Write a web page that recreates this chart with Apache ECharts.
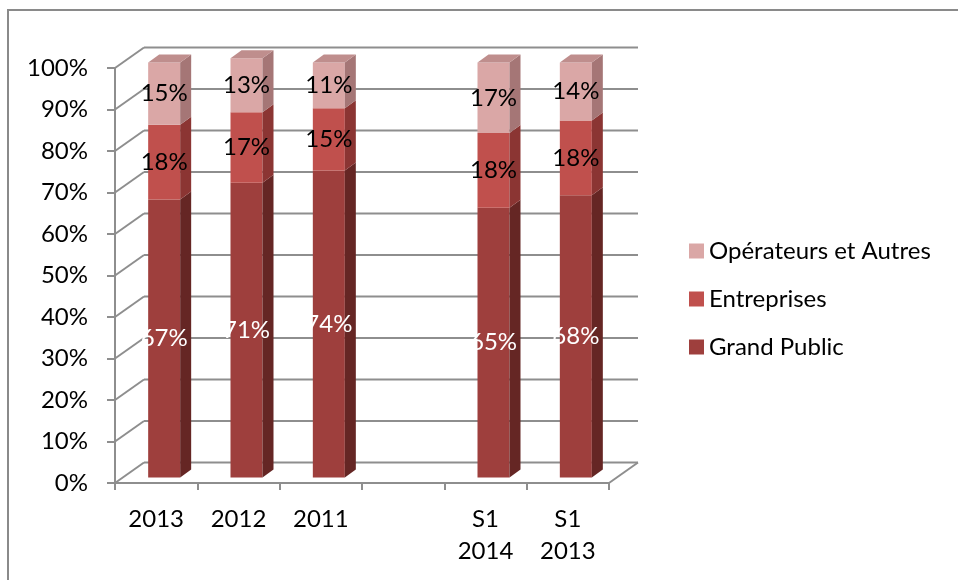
<!DOCTYPE html>
<html>
<head>
<meta charset="utf-8">
<script src="https://cdn.jsdelivr.net/npm/echarts@6/dist/echarts.min.js"></script>
<style>html,body{margin:0;padding:0;background:#fff}#c{width:958px;height:580px}</style>
</head>
<body>
<div id="c"></div>
<script>
const categories = ['2013', '2012', '2011', '', 'S1\n2014', 'S1\n2013'];
const grandPublic = [67, 71, 74, null, 65, 68];
const entreprises = [18, 17, 15, null, 18, 18];
const operateurs = [15, 13, 11, null, 17, 14];
const yTicks = [0, 10, 20, 30, 40, 50, 60, 70, 80, 90, 100];
const seriesNames = ['Grand Public', 'Entreprises', 'Opérateurs et Autres'];
const seriesValues = [grandPublic, entreprises, operateurs];

const FONT = 'Lato';
const FS = 24;
const WALL_DX = 29, WALL_DY = -20.5;
const FACE_DY = -5.5, FACE_W = 32;
const SIDE_DX = 11, SIDE_DY = -8;
const GRID_COLOR = '#8e8e8e';

const palette = [
  { front: '#9E3F3D', side: '#652624', top: '#7F302E', label: '#ffffff' },
  { front: '#C0504D', side: '#8B3533', top: '#A54442', label: '#000000' },
  { front: '#DAA7A6', side: '#A57676', top: '#BF8E8D', label: '#000000' }
];

function wallItem(params, api) {
  const v = api.value(1);
  const p = api.coord([0, v]);
  const cs = params.coordSys;
  const x0 = cs.x, x1 = cs.x + cs.width, y = p[1];
  const st = { stroke: GRID_COLOR, lineWidth: 2 };
  const children = [
    { type: 'line', shape: { x1: x0, y1: y, x2: x0 + WALL_DX, y2: y + WALL_DY }, style: st },
    { type: 'line', shape: { x1: x0 + WALL_DX, y1: y + WALL_DY, x2: x1 + WALL_DX, y2: y + WALL_DY }, style: st }
  ];
  if (v === 0) {
    children.push({ type: 'line', shape: { x1: x1, y1: y, x2: x1 + WALL_DX, y2: y + WALL_DY }, style: st });
  }
  return { type: 'group', children };
}

function makeBar(k) {
  const col = palette[k];
  const isTop = k === seriesValues.length - 1;
  return function (params, api) {
    const i = api.value(0), v = api.value(1), base = api.value(2);
    const pb = api.coord([i, base]);
    const pt = api.coord([i, base + v]);
    const cx = pb[0];
    const left = cx - 8, right = left + FACE_W;
    const yb = pb[1] + FACE_DY, yt = pt[1] + FACE_DY;
    const children = [
      { type: 'rect', shape: { x: left, y: yt, width: FACE_W, height: yb - yt }, style: { fill: col.front } },
      { type: 'polygon', shape: { points: [[right, yt], [right + SIDE_DX, yt + SIDE_DY], [right + SIDE_DX, yb + SIDE_DY], [right, yb]] }, style: { fill: col.side } }
    ];
    if (isTop) {
      children.push({ type: 'polygon', shape: { points: [[left, yt], [left + SIDE_DX, yt + SIDE_DY], [right + SIDE_DX, yt + SIDE_DY], [right, yt]] }, style: { fill: col.top } });
    }
    children.push({
      type: 'text', x: (left + right) / 2, y: (yt + yb) / 2,
      style: { text: v + '%', fill: col.label, fontSize: FS, fontFamily: FONT, align: 'center', verticalAlign: 'middle' }
    });
    return { type: 'group', children };
  };
}

const barSeries = seriesValues.map((vals, k) => {
  const data = [];
  vals.forEach((v, i) => {
    if (v === null) return;
    let base = 0;
    for (let j = 0; j < k; j++) base += seriesValues[j][i];
    data.push([i, v, base]);
  });
  return {
    type: 'custom', name: seriesNames[k], renderItem: makeBar(k), data,
    itemStyle: { color: palette[k].front }, z: 3 + k, clip: false,
    encode: { x: 0, y: [1, 2] }
  };
});

const chart = echarts.init(document.getElementById('c'), null, { renderer: 'canvas' });
chart.setOption({
  animation: false,
  backgroundColor: '#ffffff',
  graphic: [
    { type: 'rect', shape: { x: 8, y: 10, width: 1000, height: 700 }, style: { fill: 'none', stroke: '#8a8a8a', lineWidth: 2 }, z: 0 }
  ],
  grid: { left: 115, right: 349, top: 68, bottom: 97 },
  legend: {
    orient: 'vertical', left: 684, top: 233, icon: 'rect', itemWidth: 15, itemHeight: 15,
    itemGap: 22,
    data: ['Opérateurs et Autres', 'Entreprises', 'Grand Public'],
    textStyle: { fontFamily: FONT, fontSize: FS, lineHeight: 26, color: '#000' }
  },
  xAxis: {
    type: 'category', data: categories, boundaryGap: true,
    axisLine: { show: true, lineStyle: { color: GRID_COLOR, width: 2 } },
    axisTick: { show: true, interval: 0, length: 7, lineStyle: { color: GRID_COLOR, width: 2 } },
    axisLabel: { interval: 0, margin: 20, fontFamily: FONT, fontSize: FS, lineHeight: 32, color: '#000' },
    splitLine: { show: false }
  },
  yAxis: {
    type: 'value', min: 0, max: 100, interval: 10,
    axisLine: { show: true, lineStyle: { color: GRID_COLOR, width: 2 } },
    axisTick: { show: true, length: 8, lineStyle: { color: GRID_COLOR, width: 2 } },
    axisLabel: { margin: 27, formatter: '{value}%', fontFamily: FONT, fontSize: FS, color: '#000' },
    splitLine: { show: false }
  },
  series: [
    { type: 'custom', name: 'walls', renderItem: wallItem, data: yTicks.map(t => [0, t]), z: 1, silent: true, clip: false, encode: { x: 0, y: 1 } }
  ].concat(barSeries)
});
</script>
</body>
</html>
